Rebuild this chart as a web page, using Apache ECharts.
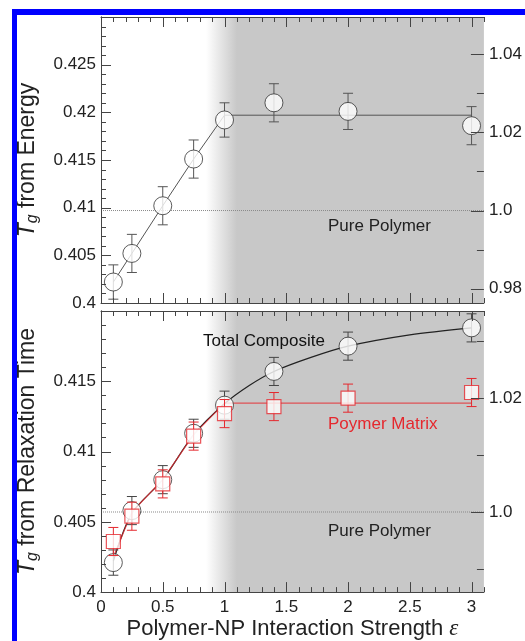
<!DOCTYPE html>
<html>
<head>
<meta charset="utf-8">
<script src="https://cdn.jsdelivr.net/npm/echarts@6/dist/echarts.min.js"></script>
<style>
  html, body { margin: 0; padding: 0; background: #fff; }
  #chart-container { width: 525px; height: 641px; }
</style>
</head>
<body>
<div id="chart-container"></div>
<script>
// interaction strengths (shared by both panels)
var strength = [0.1, 0.25, 0.5, 0.75, 1.0, 1.4, 2.0, 3.0];

// top panel: Tg from energy
var tgEnergy    = [0.4022, 0.4052, 0.4102, 0.4151, 0.4192, 0.4210, 0.4201, 0.4186];
var tgEnergyErr = [0.0018, 0.0020, 0.0020, 0.0020, 0.0018, 0.0020, 0.0019, 0.0020];
var energyFitX  = [0.1, 0.25, 0.5, 0.75, 1.0, 3.0];
var energyFitY  = [0.4022, 0.4052, 0.4102, 0.4151, 0.4197, 0.4197];
var tgPureEnergy = 0.4097;

// bottom panel: Tg from relaxation time
var tgTotal     = [0.4021, 0.4058, 0.4080, 0.4113, 0.4133, 0.4157, 0.4175, 0.4188];
var tgTotalErr  = [0.0009, 0.0010, 0.0010, 0.0010, 0.0010, 0.0010, 0.0010, 0.0010];
var tgMatrix    = [0.4036, 0.4054, 0.4077, 0.4111, 0.4127, 0.4132, 0.4138, 0.4142];
var tgMatrixErr = [0.0010, 0.0010, 0.0010, 0.0010, 0.0010, 0.0010, 0.0010, 0.0010];
var totalFitX   = [0.1, 0.25, 0.5, 0.75, 1.0, 1.2, 1.4, 1.7, 2.0, 2.5, 3.0];
var totalFitY   = [0.4022, 0.4056, 0.4080, 0.4112, 0.4134, 0.4147, 0.4157, 0.4167, 0.4175, 0.4183, 0.4188];
var matrixFitX  = [0.1, 0.25, 0.5, 0.75, 1.0, 3.0];
var matrixFitY  = [0.4025, 0.4057, 0.4080, 0.4112, 0.41345, 0.41345];
var tgPureRelax = 0.4057;

// shaded "strong interaction" region (fades in between these)
var shadeStart = 0.85, shadeFull = 1.1;

// axis ranges and tick marks
var xRange = [0, 3.1];
var energyRange = [0.4, 0.43];
var relaxRange = [0.4, 0.42];
var xMajorStep = 0.5, xMinorStep = 0.1;
var yMajorStep = 0.005, yMinorStep = 0.001;
var ratioMajorTop = [0.98, 1.0, 1.02, 1.04];
var ratioMinorTop = [0.99, 1.01, 1.03];
var ratioMajorBottom = [1.0, 1.02];
var ratioMinorBottom = [0.99, 1.01, 1.03];

var FONT = 'Liberation Sans, Arial, sans-serif';
var AXIS = '#444';
var TEXT = '#222';
var RED = '#e5282e';
var SHADE = '#c8c8c8';

function pairs(xs, ys) {
  return xs.map(function (x, i) { return [x, ys[i]]; });
}
function errData(ys, errs) {
  return strength.map(function (x, i) { return [x, ys[i] - errs[i], ys[i] + errs[i]]; });
}
function steps(from, to, step) {
  var out = [];
  for (var i = 0; from + i * step <= to + 1e-9; i++) out.push(+(from + i * step).toFixed(4));
  return out;
}
function isMultiple(v, step) {
  return Math.abs(v / step - Math.round(v / step)) < 1e-6;
}

function errorBars(color) {
  return function (params, api) {
    var hi = api.coord([api.value(0), api.value(2)]);
    var lo = api.coord([api.value(0), api.value(1)]);
    var w = 5;
    var st = { stroke: color, lineWidth: 1 };
    return {
      type: 'group',
      children: [
        { type: 'line', shape: { x1: hi[0], y1: hi[1], x2: lo[0], y2: lo[1] }, style: st },
        { type: 'line', shape: { x1: hi[0] - w, y1: hi[1], x2: hi[0] + w, y2: hi[1] }, style: st },
        { type: 'line', shape: { x1: lo[0] - w, y1: lo[1], x2: lo[0] + w, y2: lo[1] }, style: st }
      ]
    };
  };
}

function xAxesFor(grid, withLabels) {
  var base = {
    type: 'value', gridIndex: grid, min: xRange[0], max: xRange[1], interval: xMajorStep, z: 10,
    splitLine: { show: false },
    axisLine: { show: true, lineStyle: { color: AXIS, width: 1 } },
    axisTick: { show: false },
    axisLabel: { show: false }
  };
  var bottom = Object.assign({}, base, { position: 'bottom' });
  if (withLabels) {
    bottom.axisLabel = {
      show: true, showMaxLabel: false, margin: 7,
      color: TEXT, fontSize: 17, fontFamily: FONT
    };
    bottom.name = '{n|Polymer-NP Interaction Strength }{e|\u03b5}';
    bottom.nameLocation = 'middle';
    bottom.nameGap = 24;
    bottom.nameTextStyle = {
      rich: {
        n: { fontSize: 22, fontFamily: FONT, color: TEXT },
        e: { fontSize: 23, fontFamily: 'Liberation Serif, serif', fontStyle: 'italic', color: TEXT }
      }
    };
  }
  return [bottom, Object.assign({}, base, { position: 'top' })];
}

function yAxesFor(grid, range, tg0, title) {
  return [
    {
      type: 'value', gridIndex: grid, position: 'left', min: range[0], max: range[1], interval: yMajorStep, z: 10,
      splitLine: { show: false },
      axisLine: { show: true, lineStyle: { color: AXIS } },
      axisTick: { show: false },
      axisLabel: { showMaxLabel: false, margin: 5, color: TEXT, fontSize: 17, fontFamily: FONT },
      name: '{t|T}{g|g}{n| from ' + title + '}',
      nameLocation: 'middle', nameRotate: 90, nameGap: 60,
      nameTextStyle: {
        rich: {
          t: { fontSize: 23, fontStyle: 'italic', fontFamily: FONT, color: TEXT, lineHeight: 26 },
          g: { fontSize: 16, fontStyle: 'italic', fontFamily: FONT, color: TEXT, verticalAlign: 'bottom', lineHeight: 15 },
          n: { fontSize: 23, fontFamily: FONT, color: TEXT, lineHeight: 26 }
        }
      }
    },
    {
      // Tg relative to the pure polymer
      type: 'value', gridIndex: grid, position: 'right', z: 10,
      min: range[0] / tg0, max: range[1] / tg0,
      minInterval: 0.02, maxInterval: 0.02,
      splitLine: { show: false },
      axisLine: { show: true, lineStyle: { color: AXIS } },
      axisTick: { show: false },
      axisLabel: {
        showMinLabel: false, showMaxLabel: false,
        margin: 5, color: TEXT, fontSize: 17, fontFamily: FONT,
        formatter: function (v) { return Math.abs(v - 1) < 1e-9 ? '1.0' : String(+v.toFixed(2)); }
      }
    }
  ];
}

var shadeColor = {
  type: 'linear', x: 0, y: 0, x2: 1, y2: 0,
  colorStops: [
    { offset: 0, color: '#ffffff' },
    { offset: (shadeFull - shadeStart) / (xRange[1] - shadeStart), color: SHADE },
    { offset: 1, color: SHADE }
  ]
};

function shadeSeries(xi, yi, yRange) {
  return {
    type: 'line', xAxisIndex: xi, yAxisIndex: yi, silent: true, z: 0,
    data: [[shadeStart, yRange[0]], [xRange[1], yRange[0]]],
    showSymbol: false, lineStyle: { opacity: 0 },
    markArea: {
      silent: true,
      itemStyle: { color: shadeColor, opacity: 1 },
      data: [[{ xAxis: shadeStart }, { xAxis: xRange[1] }]]
    }
  };
}

function pureLine(xi, yi, tg0) {
  return {
    type: 'line', xAxisIndex: xi, yAxisIndex: yi, silent: true, z: 1,
    data: [[xRange[0], tg0], [xRange[1], tg0]],
    showSymbol: false,
    lineStyle: { color: '#8a8a8a', width: 1, type: [1, 1] }
  };
}

var chartDom = document.getElementById('chart-container');
var myChart = echarts.init(chartDom);

var overlays = [
  {
    type: 'line', z: 100, silent: true,
    shape: { x1: 12, y1: 12, x2: 525, y2: 12 },
    style: { stroke: '#0000ff', lineWidth: 6 }
  },
  {
    type: 'line', z: 100, silent: true,
    shape: { x1: 14.5, y1: 9, x2: 14.5, y2: 641 },
    style: { stroke: '#0000ff', lineWidth: 5 }
  },
  {
    type: 'text', left: 328, top: 218, z: 50,
    style: { text: 'Pure Polymer', fill: TEXT, font: '17px ' + FONT }
  },
  {
    type: 'text', left: 328, top: 523, z: 50,
    style: { text: 'Pure Polymer', fill: TEXT, font: '17px ' + FONT }
  },
  {
    type: 'text', left: 203, top: 333, z: 50,
    style: { text: 'Total Composite', fill: '#111', font: '17px ' + FONT }
  },
  {
    type: 'text', left: 328, top: 416, z: 50,
    style: { text: 'Poymer Matrix', fill: RED, font: '17px ' + FONT }
  }
];

var option = {
  backgroundColor: '#fff',
  animation: false,
  grid: [
    { left: 101, top: 17, width: 384, height: 286 },
    { left: 101, top: 311, width: 384, height: 282 }
  ],
  xAxis: xAxesFor(0, false).concat(xAxesFor(1, true)),
  yAxis: yAxesFor(0, energyRange, tgPureEnergy, 'Energy')
    .concat(yAxesFor(1, relaxRange, tgPureRelax, 'Relaxation Time')),
  series: [
    // top panel (series 0-4)
    shadeSeries(0, 0, energyRange),
    pureLine(0, 0, tgPureEnergy),
    {
      type: 'line', xAxisIndex: 0, yAxisIndex: 0, z: 2, showSymbol: false,
      data: pairs(energyFitX, energyFitY),
      lineStyle: { color: '#555', width: 1 }
    },
    {
      type: 'custom', xAxisIndex: 0, yAxisIndex: 0, z: 3,
      renderItem: errorBars('#555'),
      data: errData(tgEnergy, tgEnergyErr)
    },
    {
      type: 'scatter', xAxisIndex: 0, yAxisIndex: 0, z: 4,
      symbol: 'circle', symbolSize: 18,
      itemStyle: { color: '#fff', borderColor: '#333', borderWidth: 1 },
      data: pairs(strength, tgEnergy)
    },
    // bottom panel (series 5-12)
    shadeSeries(2, 2, relaxRange),
    pureLine(2, 2, tgPureRelax),
    {
      type: 'line', xAxisIndex: 2, yAxisIndex: 2, z: 2, showSymbol: false,
      smooth: 0.3,
      data: pairs(totalFitX, totalFitY),
      lineStyle: { color: '#222', width: 1.2 }
    },
    {
      type: 'line', xAxisIndex: 2, yAxisIndex: 2, z: 2, showSymbol: false,
      data: pairs(matrixFitX, matrixFitY),
      lineStyle: { color: RED, width: 1.2, opacity: 0.75 }
    },
    {
      type: 'custom', xAxisIndex: 2, yAxisIndex: 2, z: 3,
      renderItem: errorBars('#444'),
      data: errData(tgTotal, tgTotalErr)
    },
    {
      type: 'scatter', xAxisIndex: 2, yAxisIndex: 2, z: 4,
      symbol: 'circle', symbolSize: 18,
      itemStyle: { color: '#fff', borderColor: '#333', borderWidth: 1 },
      data: pairs(strength, tgTotal)
    },
    {
      type: 'custom', xAxisIndex: 2, yAxisIndex: 2, z: 5,
      renderItem: errorBars(RED),
      data: errData(tgMatrix, tgMatrixErr)
    },
    {
      type: 'scatter', xAxisIndex: 2, yAxisIndex: 2, z: 6,
      symbol: 'rect', symbolSize: 14,
      itemStyle: { color: '#fff', borderColor: RED, borderWidth: 1.2 },
      data: pairs(strength, tgMatrix)
    }
  ],
  graphic: overlays
};

myChart.setOption(option);

// inward tick marks on all four sides, placed through each panel's scales
function tickMarks(seriesIndex, yRange, tg0, ratioMajor, ratioMinor) {
  var finder = { seriesIndex: seriesIndex };
  function at(x, y) { return myChart.convertToPixel(finder, [x, y]); }
  var lb = at(xRange[0], yRange[0]), rt = at(xRange[1], yRange[1]);
  var L = lb[0], B = lb[1], R = rt[0], T = rt[1];
  var out = [];
  function seg(x1, y1, x2, y2) {
    out.push({
      type: 'line', z: 90, silent: true,
      shape: { x1: x1, y1: y1, x2: x2, y2: y2 },
      style: { stroke: AXIS, lineWidth: 1 }
    });
  }
  steps(xRange[0], xRange[1], xMinorStep).forEach(function (v) {
    var x = Math.round(at(v, yRange[0])[0]) + 0.5;
    var len = isMultiple(v, xMajorStep) ? 10 : 5;
    seg(x, B, x, B - len);
    seg(x, T, x, T + len);
  });
  steps(yRange[0], yRange[1], yMinorStep).forEach(function (v) {
    var y = Math.round(at(xRange[0], v)[1]) + 0.5;
    seg(L, y, L + (isMultiple(v, yMajorStep) ? 10 : 5), y);
  });
  ratioMinor.forEach(function (r) {
    var y = Math.round(at(xRange[0], r * tg0)[1]) + 0.5;
    seg(R, y, R - 7, y);
  });
  ratioMajor.forEach(function (r) {
    var y = Math.round(at(xRange[0], r * tg0)[1]) + 0.5;
    seg(R, y, R - 13, y);
  });
  return out;
}

myChart.setOption({
  graphic: overlays
    .concat(tickMarks(4, energyRange, tgPureEnergy, ratioMajorTop, ratioMinorTop))
    .concat(tickMarks(10, relaxRange, tgPureRelax, ratioMajorBottom, ratioMinorBottom))
});
</script>
</body>
</html>
